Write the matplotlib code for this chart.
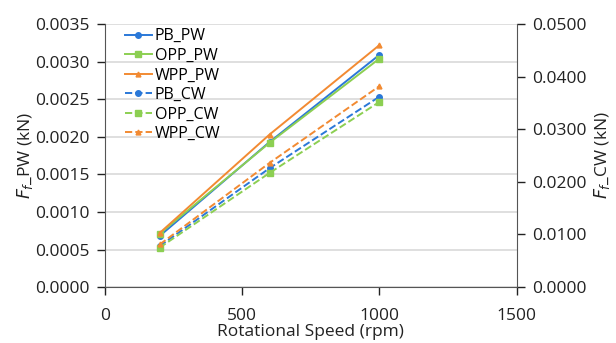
import matplotlib
matplotlib.use("Agg")
from matplotlib import pyplot as plt
from matplotlib.lines import Line2D

speed = [200, 600, 1000]

pb_pw = [0.00068, 0.00193, 0.00309]
opp_pw = [0.00071, 0.00192, 0.00304]
wpp_pw = [0.00072, 0.00203, 0.00322]

pb_cw = [0.0078, 0.0226, 0.0362]
opp_cw = [0.0075, 0.0217, 0.0352]
wpp_cw = [0.0081, 0.0236, 0.0382]

blue = '#2a78d8'
green = '#8ccf52'
orange = '#f28a32'

plt.rcParams['font.family'] = ['Open Sans', 'DejaVu Sans']
plt.rcParams['mathtext.fontset'] = 'dejavusans'

fig = plt.figure(figsize=(6.16, 3.43), dpi=100)
ax = fig.add_axes([0.170, 0.163, 0.669, 0.767])
ax2 = ax.twinx()

ax.plot(speed, pb_pw, '-o', color=blue, lw=1.4, ms=4, label='PB_PW')
ax.plot(speed, opp_pw, '-s', color=green, lw=1.4, ms=4, label='OPP_PW')
ax.plot(speed, wpp_pw, '-^', color=orange, lw=1.4, ms=3.5, label='WPP_PW')
ax2.plot(speed, pb_cw, '--o', color=blue, lw=1.4, ms=4, label='PB_CW')
ax2.plot(speed, opp_cw, '--s', color=green, lw=1.4, ms=4, label='OPP_CW')
ax2.plot(speed, wpp_cw, '--^', color=orange, lw=1.4, ms=3.5, label='WPP_CW')

ax.set_xlim(0, 1500)
ax.set_ylim(0, 0.0035)
ax2.set_ylim(0, 0.05)
ax.set_xticks([0, 500, 1000, 1500])
ax.set_yticks([i * 0.0005 for i in range(8)])
ax2.set_yticks([i * 0.01 for i in range(6)])
ax.yaxis.set_major_formatter(matplotlib.ticker.FormatStrFormatter('%.4f'))
ax2.yaxis.set_major_formatter(matplotlib.ticker.FormatStrFormatter('%.4f'))

ax.grid(axis='y', color='#d9d9d9', lw=1.2)
ax.set_axisbelow(True)

for a in (ax, ax2):
    a.spines['top'].set_visible(False)
    a.tick_params(labelsize=12.5, colors='#222222', length=6, width=1,
                  direction='out', pad=5)
    for s in a.spines.values():
        s.set_color('#555555')
ax.spines['right'].set_visible(False)
ax2.spines['left'].set_visible(False)
ax2.spines['bottom'].set_visible(False)
ax.tick_params(axis='x', pad=9)

ax.set_ylabel(r'$F_f$_PW (kN)', fontsize=12.5, color='#222222', labelpad=0)
ax2.set_ylabel(r'$F_f$_CW (kN)', fontsize=12.5, color='#222222', labelpad=4)
ax.set_xlabel('Rotational Speed (rpm)', fontsize=12.5, color='#222222', labelpad=0)

handles = [
    Line2D([], [], ls='-', marker='o', color=blue, lw=1.4, ms=4),
    Line2D([], [], ls='-', marker='s', color=green, lw=1.4, ms=4),
    Line2D([], [], ls='-', marker='^', color=orange, lw=1.4, ms=3.5),
    Line2D([], [], ls='--', marker='o', color=blue, lw=1.4, ms=4),
    Line2D([], [], ls='--', marker='s', color=green, lw=1.4, ms=4),
    Line2D([], [], ls='--', marker='^', color=orange, lw=1.4, ms=3.5),
]
labels = ['PB_PW', 'OPP_PW', 'WPP_PW', 'PB_CW', 'OPP_CW', 'WPP_CW']
ax2.legend(handles, labels, loc='upper left', bbox_to_anchor=(0.025, 1.02),
           frameon=False, fontsize=11.5, handlelength=1.7, handletextpad=0.2,
           labelspacing=0.22, borderaxespad=0.2)

fig.savefig('out.png', dpi=100)
